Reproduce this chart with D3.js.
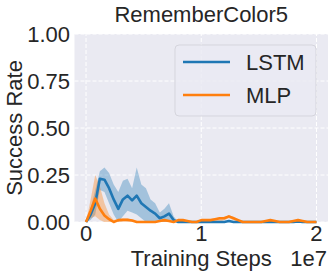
<!DOCTYPE html>
<html>
<head>
<meta charset="utf-8">
<script src="https://cdn.jsdelivr.net/npm/d3@7"></script>
<style>
body { margin: 0; background: #fff; }
text { font-family: "Liberation Sans", Arial, sans-serif; fill: #262626; }
</style>
</head>
<body>
<div id="chart"></div>
<script>
// Data (steps every 0.4e6)
var steps = [0,0.4,0.8,1.2,1.6,2.0,2.4,2.8,3.2,3.6,4.0,4.4,4.8,5.2,5.6,6.0,6.4,6.8,7.2,7.6,
  8.0,8.4,8.8,9.2,9.6,10.0,10.4,10.8,11.2,11.6,12.0,12.4,12.8,13.2,13.6,14.0,14.4,14.8,15.2,15.6,
  16.0,16.4,16.8,17.2,17.6,18.0,18.4,18.8,19.2,19.6,20.0] // in 1e6

var lstmMean = [0,0.04,0.10,0.23,0.225,0.18,0.12,0.07,0.12,0.14,0.115,0.14,0.10,0.08,0.06,0.045,0.02,0.03,0.045,0.01,
  0,0,0,0,0,0,0,0,0,0,0,0.005,0,0,0,0,0,0,0,0,
  0,0,0,0,0,0,0.003,0,0,0,0]
var lstmUpper = [0,0.07,0.17,0.27,0.29,0.26,0.2,0.16,0.22,0.23,0.18,0.29,0.2,0.18,0.12,0.1,0.05,0.07,0.1,0.03,
  0,0,0,0,0,0,0,0,0,0,0,0.008,0,0,0,0,0,0,0,0,
  0,0,0,0,0,0,0.005,0,0,0,0]
var lstmLower = [0,0.01,0.04,0.17,0.16,0.1,0.04,0,0.03,0.06,0.05,0.04,0.02,0,0,0,0,0,0,0,
  0,0,0,0,0,0,0,0,0,0,0,0,0,0,0,0,0,0,0,0,
  0,0,0,0,0,0,0,0,0,0,0]

var mlpMean = [0,0.06,0.125,0.07,0.035,0.015,0,0.01,0.012,0.012,0.008,0,0,0,0,0,0.005,0.01,0.005,0,
  0.01,0.01,0.005,0,0,0.01,0.01,0.01,0.015,0.02,0.02,0.03,0.02,0.01,0,0,0,0,0,0.005,
  0.01,0.005,0,0,0,0.005,0.01,0.005,0,0,0]
var mlpUpper = [0,0.12,0.25,0.19,0.1,0.04,0.01,0.015,0.018,0.018,0.012,0.003,0,0,0,0,0.008,0.015,0.008,0,
  0.015,0.015,0.008,0,0,0.015,0.015,0.015,0.02,0.025,0.028,0.036,0.028,0.015,0,0,0,0,0,0.008,
  0.015,0.008,0,0,0,0.008,0.015,0.008,0,0,0]
var mlpLower = [0,0.02,0.03,0.01,0,0,0,0,0,0,0,0,0,0,0,0,0,0,0,0,
  0,0,0,0,0,0,0,0,0,0,0.01,0.02,0.01,0,0,0,0,0,0,0,
  0,0,0,0,0,0,0,0,0,0,0]

var yTicks = [0, 0.25, 0.5, 0.75, 1.0]
var xTicks = [0, 10, 20] // in 1e6
var seriesNames = ['LSTM', 'MLP']
var colors = ['#1f77b4', '#ff7f0e']

var W = 332, H = 275
var margin = {top: 34, right: 4, bottom: 53, left: 74.5}

var svg = d3.select('#chart').append('svg')
    .attr('width', W)
    .attr('height', H)

var x = d3.scaleLinear().domain([-1, 21]).range([margin.left, W - margin.right])
var y = d3.scaleLinear().domain([0, 1]).range([H - margin.bottom, margin.top])

// Plot background
svg.append('rect')
    .attr('x', x(-1)).attr('y', y(1))
    .attr('width', x(21) - x(-1)).attr('height', y(0) - y(1))
    .attr('fill', '#eaeaf2')

// Grid
svg.selectAll('line.gy').data(yTicks)
  .enter().append('line')
    .attr('class', 'gy')
    .attr('x1', x(-1)).attr('x2', x(21))
    .attr('y1', function(d){ return y(d) }).attr('y2', function(d){ return y(d) })
    .style('stroke', '#fff').style('stroke-width', 1).style('stroke-dasharray', '4,2')
svg.selectAll('line.gx').data(xTicks)
  .enter().append('line')
    .attr('class', 'gx')
    .attr('y1', y(0)).attr('y2', y(1))
    .attr('x1', function(d){ return x(d) }).attr('x2', function(d){ return x(d) })
    .style('stroke', '#fff').style('stroke-width', 1).style('stroke-dasharray', '4,2')

// Bands and lines
var series = [
  {mean: lstmMean, lo: lstmLower, hi: lstmUpper},
  {mean: mlpMean, lo: mlpLower, hi: mlpUpper}
]
var area = d3.area()
    .x(function(d, i){ return x(steps[i]) })
    .y0(function(d){ return y(d[0]) })
    .y1(function(d){ return y(d[1]) })
var line = d3.line()
    .x(function(d, i){ return x(steps[i]) })
    .y(function(d){ return y(d) })

series.forEach(function(s, k){
  var band = s.lo.map(function(v, i){ return [v, s.hi[i]] })
  svg.append('path')
      .attr('d', area(band))
      .attr('fill', colors[k])
      .attr('fill-opacity', 0.35)
})
series.forEach(function(s, k){
  svg.append('path')
      .attr('d', line(s.mean))
      .attr('fill', 'none')
      .attr('stroke', colors[k])
      .attr('stroke-width', 2.6)
      .attr('stroke-linejoin', 'round')
})

// Tick labels
svg.selectAll('text.yt').data(yTicks)
  .enter().append('text')
    .attr('class', 'yt')
    .attr('x', margin.left - 4.5)
    .attr('y', function(d){ return y(d) + 8 })
    .style('text-anchor', 'end')
    .style('font-size', '22px')
    .text(function(d){ return d.toFixed(2) })
svg.selectAll('text.xt').data(xTicks)
  .enter().append('text')
    .attr('class', 'xt')
    .attr('x', function(d){ return x(d) })
    .attr('y', 241)
    .style('text-anchor', 'middle')
    .style('font-size', '22px')
    .text(function(d){ return d / 10 })

// Offset text
svg.append('text')
    .attr('x', 327).attr('y', 266)
    .style('text-anchor', 'end')
    .style('font-size', '22px')
    .text('1e7')

// Axis labels
svg.append('text')
    .attr('x', (x(-1) + x(21)) / 2).attr('y', 266)
    .style('text-anchor', 'middle')
    .style('font-size', '22px')
    .text('Training Steps')
svg.append('text')
    .attr('transform', 'translate(22,' + ((y(0) + y(1)) / 2) + ') rotate(-90)')
    .style('text-anchor', 'middle')
    .style('font-size', '22px')
    .text('Success Rate')

// Title
svg.append('text')
    .attr('x', (x(-1) + x(21)) / 2).attr('y', 22)
    .style('text-anchor', 'middle')
    .style('font-size', '22px')
    .text('RememberColor5')

// Legend
var leg = svg.append('g').attr('transform', 'translate(175,45)')
leg.append('rect')
    .attr('width', 141).attr('height', 71)
    .attr('rx', 4)
    .attr('fill', '#eaeaf2').attr('fill-opacity', 0.8)
    .attr('stroke', '#d5d5dd').attr('stroke-width', 1)
seriesNames.forEach(function(name, k){
  var ly = 17 + k * 33
  leg.append('line')
      .attr('x1', 8).attr('x2', 55)
      .attr('y1', ly).attr('y2', ly)
      .attr('stroke', colors[k]).attr('stroke-width', 2.6)
  leg.append('text')
      .attr('x', 71).attr('y', ly + 8)
      .style('font-size', '22px')
      .text(name)
})
</script>
</body>
</html>
